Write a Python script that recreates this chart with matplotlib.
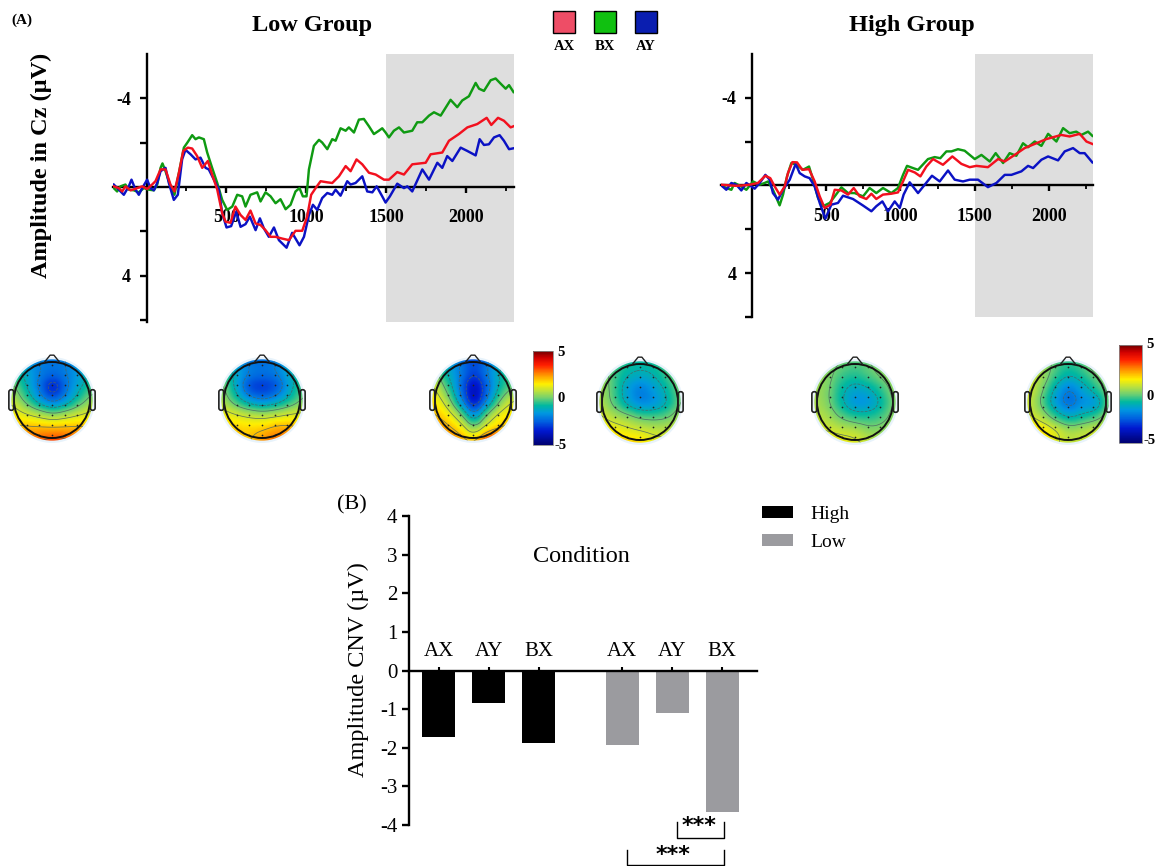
import numpy as np
import matplotlib
matplotlib.use('Agg')
import matplotlib.pyplot as plt
from matplotlib.patches import Circle, Rectangle, FancyBboxPatch
from matplotlib.cm import ScalarMappable
from matplotlib.colors import Normalize, LinearSegmentedColormap

W, H = 1158, 866
plt.rcParams['font.family'] = ['Liberation Serif', 'DejaVu Serif']
plt.rcParams['axes.unicode_minus'] = False

GREEN = '#0f9a12'
RED = '#f2101e'
BLUE = '#0b12c4'

# ERP traces, time in ms and amplitude in uV
low_bx_t = [-205, -184, -163, -132, -111, -79, -48, -17, 15, 46, 67, 88, 100, 119, 150, 175, 203, 234, 259, 286, 307, 328, 359, 380, 411, 443, 474, 505, 537, 568, 599, 620, 651, 693, 714, 745, 777, 808, 839, 871, 902, 933, 958, 979, 1002, 1017, 1048, 1080, 1100, 1132, 1163, 1184, 1215, 1247, 1267, 1299, 1330, 1361, 1393, 1424, 1455, 1476, 1497, 1518, 1549, 1581, 1612, 1664, 1695, 1727, 1769, 1800, 1842, 1904, 1946, 1977, 2019, 2061, 2082, 2113, 2155, 2186, 2217, 2249, 2270, 2298]
low_bx_v = [.05, .2, -.03, -.11, .12, .15, .24, .05, .12, .15, -.11, -.86, -1.06, -.71, -.03, .35, -.64, -1.77, -2.03, -2.33, -2.15, -2.23, -2.15, -1.55, -.86, -.18, .58, 1.03, .88, .35, .42, .88, .35, .24, .65, .24, .42, .73, .55, 1.0, .80, .20, .05, .42, .42, -.79, -1.85, -2.12, -2.0, -1.70, -2.15, -2.08, -2.64, -2.53, -2.68, -2.45, -3.03, -3.06, -2.73, -2.38, -2.53, -2.64, -2.45, -2.23, -2.53, -2.68, -2.45, -2.53, -2.91, -2.91, -3.21, -3.36, -3.21, -3.92, -3.59, -3.89, -4.08, -4.68, -4.42, -4.32, -4.80, -4.88, -4.65, -4.42, -4.58, -4.27]

low_ay_t = [-205, -173, -142, -111, -94, -69, -48, -27, 4, 25, 46, 67, 88, 119, 140, 171, 196, 223, 244, 276, 307, 338, 370, 390, 422, 453, 474, 501, 530, 562, 589, 620, 647, 683, 710, 735, 766, 798, 829, 877, 912, 958, 986, 1017, 1042, 1069, 1100, 1132, 1163, 1184, 1215, 1257, 1278, 1309, 1351, 1382, 1414, 1441, 1476, 1497, 1524, 1570, 1612, 1633, 1664, 1727, 1769, 1821, 1852, 1883, 1915, 1967, 2009, 2061, 2086, 2113, 2144, 2176, 2211, 2238, 2270, 2298]
low_ay_v = [-.11, .12, .35, -.03, -.33, .12, .35, .05, -.33, .05, .15, -.18, -.71, -.86, -.18, .58, .35, -1.24, -1.67, -1.47, -1.24, -1.32, -.86, -.79, -.33, .12, 1.18, 1.82, 1.76, 1.11, 1.79, 1.67, 1.33, 1.94, 1.41, 1.86, 2.24, 1.82, 2.39, 2.73, 2.06, 2.62, 2.24, 1.26, .80, 1.03, .50, .27, .35, .12, .39, -.26, -.11, -.18, -.48, .20, .24, -.03, .42, .70, .42, -.15, .05, -.03, .20, -.79, -.33, -1.09, -.86, -1.39, -1.17, -1.77, -1.62, -1.42, -2.15, -1.89, -1.92, -2.23, -2.33, -2.08, -1.70, -1.74]

low_ax_t = [-205, -173, -152, -132, -100, -58, -27, 4, 35, 56, 88, 119, 150, 175, 203, 230, 259, 286, 317, 349, 384, 411, 443, 474, 495, 526, 557, 589, 620, 651, 683, 714, 745, 777, 808, 850, 892, 933, 975, 1006, 1031, 1059, 1090, 1132, 1163, 1205, 1247, 1278, 1315, 1351, 1393, 1435, 1487, 1518, 1570, 1612, 1664, 1748, 1779, 1852, 1894, 1956, 2009, 2071, 2130, 2159, 2201, 2238, 2280, 2298]
low_ax_v = [-.03, .05, .2, -.03, .15, .05, -.03, .09, -.11, -.26, -.79, -.79, -.11, .2, -.64, -1.62, -1.77, -1.73, -1.39, -.86, -1.17, -.56, .12, 1.18, 1.56, 1.61, .88, 1.26, 1.48, 1.06, 1.64, 1.71, 1.94, 2.24, 2.24, 2.32, 2.39, 1.97, 1.97, 1.33, .35, .05, -.26, -.21, -.18, -.48, -.94, -.71, -1.24, -1.02, -.64, -.56, -.33, -.33, -.67, -.56, -1.02, -1.09, -1.47, -1.55, -2.08, -2.38, -2.68, -2.83, -3.11, -2.79, -3.11, -2.98, -2.68, -2.73]

high_bx_t = [-207, -173, -139, -117, -72, -38, 7, 52, 85, 108, 141, 186, 209, 236, 265, 299, 343, 384, 411, 445, 478, 523, 557, 602, 647, 691, 748, 792, 837, 882, 938, 983, 1017, 1044, 1084, 1118, 1185, 1230, 1268, 1309, 1343, 1387, 1432, 1500, 1545, 1601, 1641, 1691, 1735, 1780, 1825, 1859, 1904, 1949, 1994, 2050, 2095, 2139, 2184, 2218, 2263, 2292]
high_bx_v = [0, .12, .2, -.11, .05, .2, -.18, -.03, -.11, -.18, .2, .91, .42, -.41, -1.02, -.94, -.71, -.86, -.26, .58, .95, .8, .5, .09, .35, .35, .5, .12, .35, .12, .35, .12, -.48, -.89, -.79, -.71, -1.2, -1.29, -1.24, -1.55, -1.55, -1.65, -1.58, -1.2, -1.39, -1.09, -1.47, -1.02, -1.47, -1.35, -1.92, -1.74, -2.0, -1.8, -2.35, -2.0, -2.61, -2.38, -2.45, -2.3, -2.45, -2.26]

high_ay_t = [-207, -173, -139, -106, -72, -38, 18, 52, 90, 119, 141, 175, 209, 254, 294, 321, 355, 388, 422, 456, 494, 534, 579, 613, 680, 748, 804, 837, 878, 916, 961, 995, 1021, 1062, 1118, 1163, 1212, 1264, 1320, 1365, 1421, 1466, 1522, 1589, 1646, 1702, 1747, 1814, 1859, 1893, 1949, 1994, 2061, 2106, 2162, 2207, 2240, 2292]
high_ay_v = [0, .2, -.11, -.03, .23, -.11, .15, -.11, -.48, -.26, .35, .65, .2, -.26, -.98, -.56, -.41, -.33, .05, .8, 1.52, .88, .8, .47, .62, .92, 1.18, .95, .73, 1.18, .73, 1.03, .42, -.14, .35, -.03, -.44, -.18, -.68, -.26, -.18, -.26, -.26, .08, -.11, -.48, -.48, -.64, -.89, -.79, -1.17, -1.32, -1.14, -1.55, -1.7, -1.47, -1.47, -1.05]

high_ax_t = [-207, -150, -106, -61, -16, 40, 90, 123, 153, 186, 220, 242, 272, 303, 339, 384, 422, 456, 489, 528, 557, 602, 647, 685, 725, 770, 804, 837, 882, 938, 983, 1017, 1051, 1096, 1134, 1174, 1219, 1286, 1349, 1410, 1466, 1511, 1589, 1657, 1702, 1769, 1836, 1904, 1982, 2083, 2139, 2207, 2252, 2292]
high_ax_v = [-.03, 0, .02, 0, -.03, -.11, -.44, -.33, .05, .42, .05, -.56, -1.06, -1.05, -.71, -.74, -.18, .5, 1.03, .88, .2, .23, .42, .12, .5, .62, .38, .62, .42, .38, .32, -.18, -.71, -.59, -.41, -.86, -1.2, -.94, -1.32, -.98, -.83, -.89, -.83, -1.2, -1.09, -1.39, -1.7, -1.89, -2.11, -2.3, -2.23, -2.35, -2.0, -1.89]

# scalp maps, coarse grid (front of head on first row)
low_map1 = [[-1, -1.5, -2.0, -2.2, -2.0, -1.6, -.8],
            [-.4, -1.2, -2.0, -2.3, -2.0, -1.5, -.7],
            [.3, -.9, -2.2, -3.9, -2.2, -1.1, -.2],
            [.9, -.2, -1.5, -2.4, -1.6, -.4, .5],
            [1.5, 1.1, .7, .2, .6, 1.0, 1.3],
            [2.2, 2.2, 2.2, 2.2, 2.2, 2.2, 2.0],
            [3.0, 3.0, 3.1, 3.4, 3.3, 3.0, 2.8]]
low_map2 = [[-1, -1.5, -2.2, -2.3, -2, -1.2, -.6],
            [-.2, -1.2, -2, -2.2, -2, -1.2, -.4],
            [.3, -1.2, -3, -3.3, -2.8, -1.3, -.2],
            [.6, -.5, -1.5, -2, -1.5, -.7, .2],
            [1.4, 1.1, .8, .6, .8, 1.1, 1.2],
            [1.9, 1.9, 1.8, 1.9, 2.3, 2.3, 1.9],
            [2.4, 2.1, 1.9, 2.6, 3, 2.8, 2.3]]
low_map3 = [[-.4, -1.3, -2.1, -3, -2.1, -1.2, -.2],
            [.5, -1, -2, -3, -2, -.8, -.2],
            [1.2, -.2, -2.2, -4.3, -2.4, -.7, 0],
            [1.7, .7, -1.6, -4.2, -1.9, .2, 1.2],
            [2.1, 1.6, .3, -2.1, .2, 1.4, 1.7],
            [2.6, 2.3, 1.7, .1, 1.5, 2, 2.3],
            [2.9, 2.7, 2.5, 2, 3.8, 3.8, 3]]
high_map1 = [[0, -.2, -.6, -.8, -.6, -.2, .4],
             [.5, -.3, -1, -1.2, -1, -.3, .3],
             [.6, -.3, -1.5, -2.2, -1.5, -.8, .2],
             [.7, -.2, -1.3, -2.0, -1.8, -1, .1],
             [1.1, .6, .3, -.2, -.3, -.1, .6],
             [1.7, 1.5, 1.2, 1, .8, .8, 1],
             [1.9, 2, 2, 1.8, 1.3, 1.1, 1]]
high_map2 = [[.3, .2, 0, -.2, 0, .3, .5],
             [.5, .2, -.4, -.6, -.2, .2, .6],
             [.5, .1, -.9, -1.4, -1.1, -.4, .5],
             [.6, .1, -1, -1.8, -1.7, -.8, .3],
             [.8, .5, -.2, -.6, -.6, -.3, .5],
             [1, 1, .8, .7, .2, .3, .7],
             [1.3, 1.4, 1.4, 1.2, .9, .4, .6]]
high_map3 = [[.5, .6, -.2, -.5, -.2, .5, .5],
             [1, .6, -.4, -1, -.6, 0, .6],
             [1.2, .2, -1.2, -2.2, -1.4, -.6, .3],
             [1, -.2, -1.6, -2.5, -1.8, -1.8, .2],
             [1.1, .6, -.5, -1.2, -.8, -.4, .5],
             [1.8, 1.8, 1.2, .5, .7, 1, 1],
             [1.5, 1.5, 1.1, .8, .9, 1.1, .9]]

# colour scale stops as seen on the colour bars
scale_vals = [-5, -3.5, -2.5, -1.6, -.8, 0, .7, 1.5, 2.5, 3.5, 4.3, 5]
scale_cols = ['#000070', '#0018d0', '#0060e0', '#0098e0', '#00b8a0', '#70d070', '#b8e040',
              '#fff000', '#ff9000', '#ff2000', '#d00000', '#700000']

# bars
conditions = ['AX', 'AY', 'BX', 'AX', 'AY', 'BX']
bar_pos = [0, 1, 2, 3.67, 4.67, 5.67]
high_cnv = [-1.72, -0.85, -1.87]
low_cnv = [-1.92, -1.10, -3.67]

scalp_cmap = LinearSegmentedColormap.from_list(
    'scalp', [((v + 5) / 10, c) for v, c in zip(scale_vals, scale_cols)])


def px_axes(fig, left, top, right, bottom):
    return fig.add_axes([left / W, 1 - bottom / H, (right - left) / W, (bottom - top) / H])


def px_text(fig, x, y, s, **kw):
    kw.setdefault('ha', 'center')
    kw.setdefault('va', 'center')
    fig.text(x / W, 1 - y / H, s, **kw)


def erp_panel(fig, box, xlim, ylim, traces):
    ax = px_axes(fig, *box)
    ax.axvspan(1500, xlim[1], color='#dedede', lw=0)
    for t, v, c in traces:
        ax.plot(t, v, color=c, lw=1.75, zorder=3)
    ax.set_xlim(xlim)
    ax.set_ylim(ylim)
    for s in ['top', 'right']:
        ax.spines[s].set_visible(False)
    ax.spines['left'].set_position(('data', 0))
    ax.spines['bottom'].set_position(('data', 0))
    ax.spines['left'].set_linewidth(1.7)
    ax.spines['bottom'].set_linewidth(1.7)
    ax.set_xticks([500, 1000, 1500, 2000])
    ax.set_xticks([250, 750, 1250, 1750, 2250], minor=True)
    ax.set_yticks([-4, -2, 2, 4, 6])
    ax.set_yticklabels(['-4', '', '', '4', ''], fontweight='bold', fontsize=13)
    ax.set_xticklabels(['500', '1000', '1500', '2000'], fontweight='bold', fontsize=13)
    ax.tick_params(axis='y', width=1.7, length=5, pad=6)
    ax.tick_params(axis='x', which='major', width=1.7, length=4, pad=12)
    ax.tick_params(axis='x', which='minor', width=1.3, length=3)
    ax.patch.set_alpha(0)
    return ax


def upsample(grid, n=8):
    # only so the drawn contours come out round, values stay those of the grid
    g = np.asarray(grid, dtype=float)
    fine = np.linspace(0, g.shape[0] - 1, (g.shape[0] - 1) * n + 1)
    idx = np.arange(g.shape[0])
    g = np.array([np.interp(fine, idx, row) for row in g])
    g = np.array([np.interp(fine, idx, col) for col in g.T]).T
    kernel = np.ones(n) / n
    pad = n // 2
    g = np.pad(g, pad, mode='edge')
    g = np.apply_along_axis(lambda m: np.convolve(m, kernel, mode='same'), 0, g)
    g = np.apply_along_axis(lambda m: np.convolve(m, kernel, mode='same'), 1, g)
    return g[pad:-pad, pad:-pad]


def scalp(fig, cx, cy, r, grid):
    # one axes per head, units are head radii
    span = 1.45
    ax = px_axes(fig, cx - span * r, cy - span * r, cx + span * r, cy + span * r)
    ax.axis('off')
    ax.add_patch(Circle((0, 0), 1.13, fc='#e8f3fb', ec='none', zorder=0))
    ext = [-1.1, 1.1, -1.1, 1.1]
    smooth = upsample(grid)
    im = ax.imshow(smooth, cmap=scalp_cmap, vmin=-5, vmax=5, extent=ext, origin='upper',
                   interpolation='bilinear', zorder=1)
    clip = Circle((0, 0), 1.07, transform=ax.transData)
    im.set_clip_path(clip)
    cs = ax.contour(smooth, levels=[-4, -3, -2, -1, 0, 1, 2, 3], colors='#4a6464', linewidths=0.55,
                    extent=ext, origin='upper', zorder=2, alpha=0.85)
    cs.set_clip_path(clip)
    ax.set_aspect('equal')
    ax.set_xlim(-span, span)
    ax.set_ylim(-span, span)
    xx, yy = np.meshgrid(np.arange(-0.99, 1.0, 0.33), np.arange(-0.91, 0.92, 0.26))
    keep = xx ** 2 + yy ** 2 < 0.98 ** 2
    ax.scatter(xx[keep], yy[keep], s=1.5, color='#222222', lw=0, zorder=3)
    ax.add_patch(Circle((0, 0), 1, fill=False, ec='#111111', lw=1.4, zorder=4))
    ax.plot([-0.21, -0.05, 0.05, 0.21], [0.98, 1.18, 1.18, 0.98], color='#222222', lw=1, zorder=4)
    for sx in [-1.07, 1.07]:
        ax.add_patch(FancyBboxPatch((sx - 0.035, -0.24), 0.07, 0.48,
                                    boxstyle='round,pad=0.03,rounding_size=0.06',
                                    fill=False, ec='#222222', lw=1.2, zorder=4))


def scale_bar(fig, box, label_x, ys):
    cax = px_axes(fig, *box)
    sm = ScalarMappable(Normalize(-5, 5), scalp_cmap)
    cb = fig.colorbar(sm, cax=cax)
    cb.set_ticks([])
    cb.outline.set_linewidth(0.6)
    cb.outline.set_edgecolor('#888888')
    for y, s in zip(ys, ['5', '0', '-5']):
        px_text(fig, label_x, y, s, fontweight='bold', fontsize=10.5)


fig = plt.figure(figsize=(W / 100, H / 100), dpi=100)

# panel A, traces
erp_panel(fig, (113, 54, 513.5, 322), (-209.8, 2298), (6.07, -5.98),
          [(low_bx_t, low_bx_v, GREEN), (low_ay_t, low_ay_v, BLUE), (low_ax_t, low_ax_v, RED)])
erp_panel(fig, (721, 54, 1092.5, 317), (-208.8, 2293), (5.97, -5.99),
          [(high_bx_t, high_bx_v, GREEN), (high_ay_t, high_ay_v, BLUE), (high_ax_t, high_ax_v, RED)])

px_text(fig, 22, 20, '(A)', fontweight='bold', fontsize=11)
px_text(fig, 312, 25, 'Low Group', fontweight='bold', fontsize=17.5)
px_text(fig, 912, 25, 'High Group', fontweight='bold', fontsize=17.5)
px_text(fig, 41, 165, 'Amplitude in Cz (µV)', fontweight='bold', fontsize=17.5, rotation=90)

for x, c, s in zip([553, 594, 635], ['#ee4d66', '#10c010', '#0a1eb0'], ['AX', 'BX', 'AY']):
    fig.add_artist(Rectangle((x / W, 1 - 33 / H), 22 / W, 22 / H, transform=fig.transFigure,
                             fc=c, ec='black', lw=1))
    px_text(fig, x + 11, 47, s, fontweight='bold', fontsize=10.5)

# panel A, scalp maps
for cx, grid in zip([52, 262, 473], [low_map1, low_map2, low_map3]):
    scalp(fig, cx, 400, 38, grid)
for cx, grid in zip([640, 855, 1068], [high_map1, high_map2, high_map3]):
    scalp(fig, cx, 402, 38, grid)
scale_bar(fig, (533, 351, 553, 445), 561, [352, 398, 446])
scale_bar(fig, (1119, 345, 1142, 443), 1150, [344, 396, 441])

# panel B
ax = px_axes(fig, 409, 516, 757, 825)
b1 = ax.bar(bar_pos[:3], high_cnv, width=0.66, color='black', label='High')
b2 = ax.bar(bar_pos[3:], low_cnv, width=0.66, color='#9b9b9f', label='Low')
ax.set_xlim(-0.59, 6.37)
ax.set_ylim(-4, 4)
for s in ['bottom', 'right']:
    ax.spines[s].set_visible(False)
ax.spines['top'].set_position(('data', 0))
ax.spines['top'].set_linewidth(1.7)
ax.spines['left'].set_linewidth(1.7)
ax.xaxis.tick_top()
ax.set_xticks(bar_pos)
ax.set_xticklabels(conditions, fontsize=15)
ax.set_yticks(range(-4, 5))
ax.tick_params(axis='y', labelsize=15, width=1.7, length=5, pad=3.5)
ax.tick_params(axis='x', width=1.5, length=3, pad=4)
ax.patch.set_alpha(0)

# significance brackets sit below the axis
for x0, x1, y_top, y_bot, y_star in [(4.77, 5.7, -3.91, -4.33, -4.03), (3.76, 5.7, -4.66, -5.03, -4.78)]:
    ax.plot([x0, x0, x1, x1], [y_top, y_bot, y_bot, y_top], color='black', lw=1, clip_on=False)
    ax.text((x0 + x1) / 2 - 0.03, y_star, '***', ha='center', va='center', fontsize=16,
            fontweight='bold', family='DejaVu Sans', clip_on=False)

px_text(fig, 352, 505, '(B)', fontsize=16)
px_text(fig, 358, 670, 'Amplitude CNV (µV)', fontsize=17.5, rotation=90)
px_text(fig, 581, 556, 'Condition', fontsize=17.5)
fig.legend(handles=[b1, b2], labels=['High', 'Low'], loc='upper left', frameon=False,
           bbox_to_anchor=(762 / W, 1 - 506 / H), borderpad=0, borderaxespad=0, fontsize=14,
           handlelength=1.6, handleheight=0.55, handletextpad=0.9, labelspacing=0.55)

fig.savefig('out.png', dpi=100)
